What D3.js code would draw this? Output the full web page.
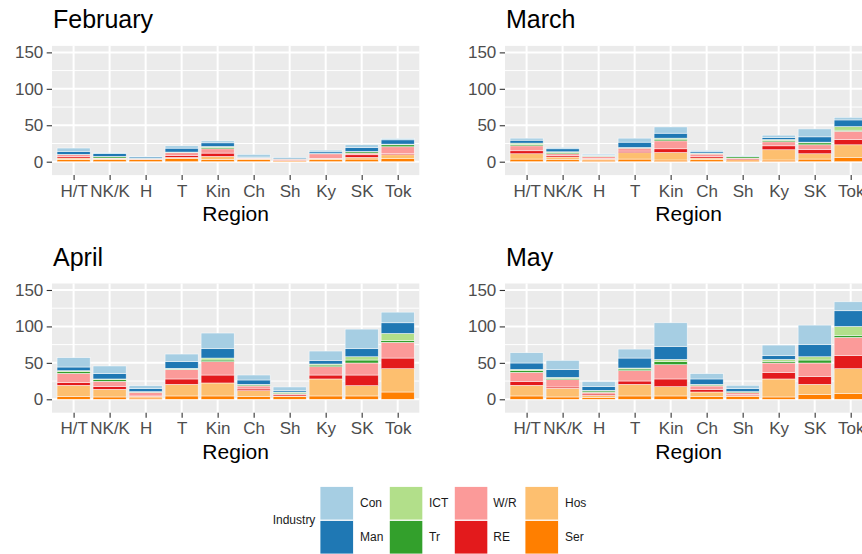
<!DOCTYPE html>
<html>
<head>
<meta charset="utf-8">
<script src="https://cdn.jsdelivr.net/npm/d3@7"></script>
<style>
  html, body { margin: 0; padding: 0; overflow: hidden; background: #fff; }
  svg { display: block; font-family: "Liberation Sans", Arial, Helvetica, sans-serif; }
</style>
</head>
<body>
<svg id="chart" width="862" height="554"></svg>
<script>
// Regions on the x axis
const regions = ["H/T", "NK/K", "H", "T", "Kin", "Ch", "Sh", "Ky", "SK", "Tok"];
// Industries, legend order (first one sits on top of each stack)
const industries = ["Con", "Man", "ICT", "Tr", "W/R", "RE", "Hos", "Ser"];
const industryColors = ["#A6CEE3", "#1F78B4", "#B2DF8A", "#33A02C", "#FB9A99", "#E31A1C", "#FDBF6F", "#FF7F00"];
const months = ["February", "March", "April", "May"];
const yTicks = [0, 50, 100, 150];
const yMinor = [25, 75, 125];

// One row per region, values in industry order: Con, Man, ICT, Tr, W/R, RE, Hos, Ser
const february = [
  [4.5, 4.1, 0.2, 0.3, 2.3, 2.3, 1.8, 3.2],
  [1.3, 3.7, 0.4, 1.8, 0.6, 0.4, 0.9, 3.2],
  [0.9, 1.7, 0.1, 0.2, 0.7, 0.2, 0.3, 3.2],
  [3.2, 5.4, 0.4, 0.5, 3.7, 2.7, 1.4, 4.5],
  [2.7, 5.0, 1.4, 1.8, 5.9, 4.5, 4.1, 3.2],
  [3.6, 0.5, 0.4, 0.4, 0.6, 0.4, 0.9, 3.2],
  [0.4, 1.4, 0.2, 0.3, 0.4, 1.4, 0.4, 1.4],
  [2.3, 2.2, 0.2, 0.3, 6.3, 0.4, 1.4, 2.7],
  [3.7, 5.4, 0.5, 1.8, 2.3, 3.6, 2.3, 3.6],
  [1.8, 5.9, 0.9, 2.7, 9.6, 1.4, 5.4, 4.1]
];
const march = [
  [2.8, 4.0, 1.9, 1.8, 6.8, 4.1, 7.3, 3.6],
  [1.8, 4.1, 0.9, 1.8, 2.7, 1.8, 3.7, 2.7],
  [1.4, 0.9, 0.4, 0.5, 2.8, 0.9, 1.3, 2.3],
  [5.5, 7.3, 0.4, 0.5, 4.1, 2.2, 8.7, 3.6],
  [8.6, 6.8, 1.4, 2.3, 10.9, 5.0, 10.4, 2.3],
  [1.9, 1.8, 0.4, 0.9, 3.2, 2.3, 2.3, 2.7],
  [0.5, 0.5, 0.4, 1.8, 0.5, 1.8, 0.4, 2.3],
  [3.2, 2.7, 1.4, 1.8, 5.5, 5.4, 14.1, 2.3],
  [10.9, 7.3, 0.9, 2.7, 6.4, 5.9, 7.3, 3.6],
  [3.6, 9.1, 5.0, 1.4, 11.3, 7.3, 17.7, 5.5]
];
const april = [
  [12.8, 5.0, 1.4, 2.3, 12.8, 3.6, 15.5, 3.7],
  [10.5, 7.3, 0.9, 2.3, 7.3, 3.7, 10.5, 3.2],
  [4.1, 4.1, 0.4, 0.5, 5.0, 0.5, 2.3, 1.8],
  [10.5, 9.1, 0.9, 1.0, 12.7, 7.4, 15.9, 4.6],
  [21.5, 12.8, 2.7, 2.3, 18.3, 10.9, 17.8, 4.6],
  [6.8, 6.0, 0.8, 1.4, 4.1, 2.3, 8.2, 3.7],
  [4.6, 2.3, 0.4, 1.8, 1.4, 1.8, 0.9, 3.7],
  [12.8, 5.0, 1.4, 2.3, 11.4, 5.4, 23.3, 4.6],
  [26.9, 11.0, 4.5, 4.1, 16.5, 14.6, 14.1, 4.6],
  [14.6, 14.6, 10.0, 2.3, 21.5, 14.6, 32.0, 10.0]
];
const may = [
  [14.1, 8.7, 1.8, 2.3, 12.3, 5.5, 14.6, 4.6],
  [12.8, 10.5, 1.3, 1.9, 10.0, 1.8, 11.9, 3.2],
  [6.8, 5.1, 0.9, 1.8, 2.3, 1.8, 2.8, 2.7],
  [12.3, 13.7, 1.3, 2.3, 14.2, 4.6, 15.9, 4.6],
  [32.4, 17.8, 3.2, 4.1, 19.6, 10.5, 12.8, 4.6],
  [7.3, 7.4, 0.9, 1.3, 4.6, 3.7, 6.3, 3.7],
  [4.6, 4.1, 0.4, 1.0, 2.7, 1.4, 0.9, 4.1],
  [14.6, 5.0, 2.7, 2.3, 12.8, 9.1, 24.7, 3.2],
  [26.9, 16.5, 4.5, 4.1, 18.3, 11.0, 14.1, 6.4],
  [12.3, 21.5, 12.3, 2.8, 24.6, 18.3, 33.8, 8.2]
];
const monthData = [february, march, april, may];

const svg = d3.select("#chart");
const color = d3.scaleOrdinal().domain(industries).range(industryColors);

// Panel geometry: two columns, two rows
const panelW = 367.3, panelH = 129.2;
const panelLefts = [52, 505];
const panelTops = [45.9, 283.5];
const yDomain = [-18.4, 158.9];

// Stack from the bottom: Ser first, Con last
const stackKeys = industries.slice().reverse();
const stack = d3.stack().keys(stackKeys);

months.forEach((month, i) => {
  const left = panelLefts[i % 2];
  const top = panelTops[Math.floor(i / 2)];
  const g = svg.append("g");

  const x = d3.scalePoint().domain(regions).range([left, left + panelW]).padding(0.6);
  const y = d3.scaleLinear().domain(yDomain).range([top + panelH, top]);
  const barW = x.step() * 0.92;

  // panel background
  g.append("rect").attr("x", left).attr("y", top)
    .attr("width", panelW).attr("height", panelH).attr("fill", "#EBEBEB");

  // grid
  g.selectAll(".minor").data(yMinor).join("line")
    .attr("x1", left).attr("x2", left + panelW)
    .attr("y1", d => y(d)).attr("y2", d => y(d))
    .attr("stroke", "#fff").attr("stroke-width", 1);
  g.selectAll(".major").data(yTicks).join("line")
    .attr("x1", left).attr("x2", left + panelW)
    .attr("y1", d => y(d)).attr("y2", d => y(d))
    .attr("stroke", "#fff").attr("stroke-width", 2);
  g.selectAll(".vmajor").data(regions).join("line")
    .attr("x1", d => x(d)).attr("x2", d => x(d))
    .attr("y1", top).attr("y2", top + panelH)
    .attr("stroke", "#fff").attr("stroke-width", 2);

  // bars
  const rows = monthData[i].map((vals, r) => {
    const o = { region: regions[r] };
    industries.forEach((k, j) => { o[k] = vals[j]; });
    return o;
  });
  const series = stack(rows);
  g.selectAll(".layer").data(series).join("g")
    .attr("fill", d => color(d.key))
    .selectAll("rect").data(d => d).join("rect")
      .attr("x", d => x(d.data.region) - barW / 2)
      .attr("width", barW)
      .attr("y", d => y(d[1]))
      .attr("height", d => y(d[0]) - y(d[1]))
      .attr("stroke", "#fff").attr("stroke-width", 0.6).attr("stroke-opacity", 0.8);

  // y axis
  const yAxis = g.append("g").attr("transform", `translate(${left},0)`)
    .call(d3.axisLeft(y).tickValues(yTicks).tickSize(5.3).tickPadding(3.4));
  yAxis.select(".domain").remove();
  yAxis.selectAll("line").attr("stroke", "#333").attr("stroke-width", 1.1);
  yAxis.selectAll("text").attr("fill", "#4D4D4D").attr("font-size", 17)
    .attr("font-family", "Liberation Sans, Arial, sans-serif");

  // x axis
  const xAxis = g.append("g").attr("transform", `translate(0,${top + panelH})`)
    .call(d3.axisBottom(x).tickSize(5).tickPadding(4.4));
  xAxis.select(".domain").remove();
  xAxis.selectAll("line").attr("stroke", "#333").attr("stroke-width", 1.1);
  xAxis.selectAll("text").attr("fill", "#4D4D4D").attr("font-size", 17)
    .attr("font-family", "Liberation Sans, Arial, sans-serif");

  // axis title
  g.append("text").attr("x", left + panelW / 2).attr("y", top + panelH + 45.9)
    .attr("text-anchor", "middle").attr("font-size", 21).attr("fill", "#000")
    .text("Region");

  // plot title
  g.append("text").attr("x", left + 1).attr("y", top - 17.5)
    .attr("font-size", 25).attr("fill", "#000").text(month);
});

// legend
const legend = svg.append("g");
legend.append("text").attr("x", 272.7).attr("y", 520).attr("dy", "0.35em")
  .attr("font-size", 12).attr("fill", "#1A1A1A").text("Industry");
const colX = [320, 389.3, 454.3, 525];
const labelX = [360, 429, 493.3, 565];
const rowY = [486.5, 520.5];
const keySize = 33.5;
industries.forEach((k, j) => {
  const c = Math.floor(j / 2), r = j % 2;
  legend.append("rect").attr("x", colX[c]).attr("y", rowY[r])
    .attr("width", keySize).attr("height", keySize)
    .attr("fill", color(k)).attr("stroke", "#fff").attr("stroke-width", 0.8);
  legend.append("text").attr("x", labelX[c]).attr("y", rowY[r] + keySize / 2)
    .attr("dy", "0.35em").attr("font-size", 12).attr("fill", "#1A1A1A").text(k);
});
</script>
</body>
</html>
